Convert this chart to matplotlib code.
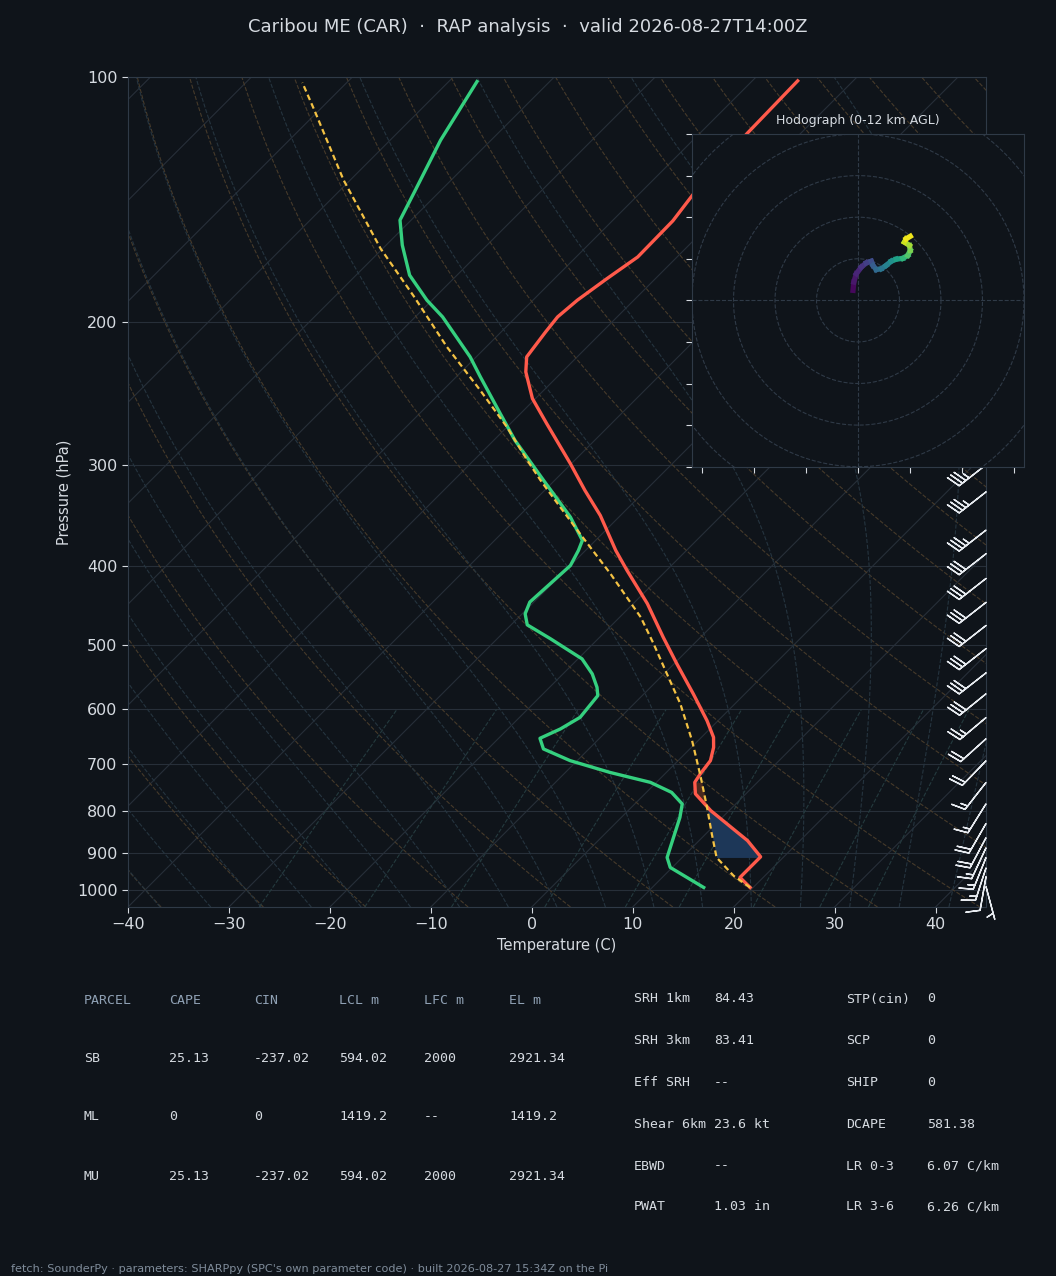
import numpy as np
import matplotlib
matplotlib.use('Agg')
import matplotlib.pyplot as plt
from matplotlib.collections import LineCollection
from matplotlib.colors import Normalize

# ---------------- data ----------------
temp_p = [993.5, 965.7, 910.8, 870.0, 799.3, 762.0, 737.6, 719.7, 693.6, 668.0, 649.3, 619.3,
          574.2, 527.4, 489.0, 444.6, 404.7, 382.4, 346.3, 322.6, 299.0, 267.0, 248.7, 230.6,
          221.0, 205.9, 197.3, 188.2, 177.0, 166.5, 150.3, 139.7, 117.3, 101.1]
temp_c = [19.7, 17.7, 17.7, 14.8, 8.2, 5.0, 3.8, 3.5, 3.2, 2.2, 1.2, -1.1,
          -5.1, -9.7, -13.7, -18.6, -23.9, -27.0, -32.0, -36.0, -40.1, -46.4, -50.3, -53.6,
          -55.0, -55.6, -55.9, -55.6, -54.8, -53.9, -54.0, -54.6, -55.3, -55.5]

dwpt_p = [993.5, 938.7, 912.5, 814.6, 784.2, 758.9, 737.6, 717.1, 693.6, 671.0, 651.1, 634.0,
          613.5, 576.9, 563.5, 542.5, 519.9, 491.2, 472.1, 457.6, 442.6, 420.1, 399.1, 382.4,
          371.7, 347.9, 313.5, 279.9, 259.5, 233.9, 221.0, 197.3, 188.2, 175.3, 161.0, 150.0,
          139.0, 119.6, 101.3]
dwpt_c = [15.1, 9.8, 8.5, 5.8, 4.7, 2.5, -0.6, -5.6, -10.7, -14.5, -15.9, -14.8,
          -14.0, -14.4, -15.3, -17.1, -19.6, -24.7, -28.4, -29.7, -30.4, -30.2, -30.0, -30.7,
          -31.3, -34.8, -41.1, -47.9, -52.0, -57.6, -60.6, -67.3, -70.5, -74.7, -78.4, -81.1,
          -82.4, -85.0, -87.2]

parcel_p = [993.5, 961.1, 912.5, 853.7, 791.9, 723.8, 655.4, 590.6, 542.5, 498.2, 462.1, 436.4,
            408.6, 364.7, 338.2, 313.5, 296.2, 269.6, 242.9, 214.8, 186.4, 162.6, 133.8, 109.8, 101.6]
parcel_c = [19.7, 16.9, 13.4, 10.6, 7.5, 3.7, -0.6, -5.4, -9.7, -14.0, -17.9, -21.3,
            -25.2, -32.2, -36.8, -41.4, -44.7, -50.0, -56.3, -63.9, -72.1, -80.2, -90.7, -100.5, -104.4]

lcl_p = 912.5
shade_top_p = 737.6

wind_p = [991, 964, 940, 913, 888, 863, 829, 784, 738, 694, 652, 614, 574, 541, 505, 473,
          443, 414, 386, 361, 324, 300, 276, 252, 230, 208, 188, 168, 150]
wind_spd = [5, 10, 15, 15, 15, 20, 20, 15, 15, 20, 20, 25, 30, 30, 30, 30,
            30, 30, 30, 35, 35, 35, 35, 35, 40, 40, 40, 40, 40]
wind_dir = [165, 190, 198, 202, 205, 208, 210, 212, 218, 224, 228, 230, 231, 232, 232, 232,
            232, 232, 232, 232, 232, 232, 232, 232, 232, 232, 232, 232, 232]

hodo_u = [-1.2, -1.0, -0.4, 0.8, 2.0, 3.2, 3.6, 4.4, 5.6, 6.8, 8.0, 9.2, 10.8, 12.0, 12.6, 12.4, 11.2, 11.6, 12.6]
hodo_v = [2.4, 4.4, 6.4, 8.0, 9.0, 9.4, 8.4, 7.4, 7.6, 8.4, 9.4, 9.9, 10.1, 10.8, 12.0, 13.2, 14.0, 14.8, 15.4]
hodo_h = [0.0, 0.5, 1.0, 1.5, 2.0, 2.5, 3.2, 3.8, 4.4, 5.0, 5.6, 6.4, 7.4, 8.4, 9.2, 10.0, 10.8, 11.4, 12.0]

xticks_t = [-40, -30, -20, -10, 0, 10, 20, 30, 40]
pticks = [100, 200, 300, 400, 500, 600, 700, 800, 900, 1000]

title = "Caribou ME (CAR)  \u00b7  RAP analysis  \u00b7  valid 2026-08-27T14:00Z"
footer = ("fetch: SounderPy \u00b7 parameters: SHARPpy (SPC's own parameter code) \u00b7 "
          "built 2026-08-27 15:34Z on the Pi")

parcel_header = ["PARCEL", "CAPE", "CIN", "LCL m", "LFC m", "EL m"]
parcel_rows = [["SB", "25.13", "-237.02", "594.02", "2000", "2921.34"],
               ["ML", "0", "0", "1419.2", "--", "1419.2"],
               ["MU", "25.13", "-237.02", "594.02", "2000", "2921.34"]]
params_left = [("SRH 1km", "84.43"), ("SRH 3km", "83.41"), ("Eff SRH", "--"),
               ("Shear 6km", "23.6 kt"), ("EBWD", "--"), ("PWAT", "1.03 in")]
params_right = [("STP(cin)", "0"), ("SCP", "0"), ("SHIP", "0"),
                ("DCAPE", "581.38"), ("LR 0-3", "6.07 C/km"), ("LR 3-6", "6.26 C/km")]

# ---------------- style ----------------
BG = '#0f141a'
GRID = '#272f39'
SPINE = '#2f3a47'
TXT = '#d6dbe1'
DIM = '#8fa1b4'
W, H = 1056, 1276

fig = plt.figure(figsize=(W / 100, H / 100), dpi=100, facecolor=BG)
AX_RECT = [128 / W, 1 - 907 / H, 858 / W, 830 / H]
ax = fig.add_axes(AX_RECT)
ax.set_facecolor(BG)
XMIN, XMAX = -40, 45
PBOT, PTOP = 1050, 100
ax.set_yscale('log')
ax.set_ylim(PBOT, PTOP)
ax.set_xlim(XMIN, XMAX)

px_per_dec = AX_RECT[3] * H / np.log10(PBOT / PTOP)
px_per_deg = AX_RECT[2] * W / (XMAX - XMIN)
K = px_per_dec / px_per_deg


def skew(p):
    return K * np.log10(PBOT / np.asarray(p, dtype=float))


# isobars
for p in pticks:
    ax.axhline(p, color=GRID, lw=0.8, zorder=1)
# isotherms
for t in range(-160, 50, 10):
    ax.plot([t, t + skew(PTOP)], [PBOT, PTOP], color=GRID, lw=0.8, zorder=1)

pg = np.logspace(np.log10(PBOT), np.log10(PTOP), 200)
# dry adiabats
for th in np.arange(-40, 210, 10):
    tt = (th + 273.15) * (pg / 1000.0) ** 0.2857 - 273.15
    ax.plot(tt + skew(pg), pg, color='#463a2a', lw=0.8, ls='--', zorder=1)

# moist adiabats
Rd, Cp, Lv, eps = 287.04, 1005.7, 2.501e6, 0.622


def dtdlnp(T, p):
    tc = T - 273.15
    es = 6.112 * np.exp(17.67 * tc / (tc + 243.5))
    rs = eps * es / (p - es)
    return (Rd * T + Lv * rs) / (Cp + (Lv * Lv * rs * eps) / (Rd * T * T))


def integrate(t0, p_path):
    T = np.array(t0, dtype=float)
    out = [T.copy()]
    for i in range(len(p_path) - 1):
        p0, p1 = p_path[i], p_path[i + 1]
        h = np.log(p1) - np.log(p0)
        pm = np.exp(np.log(p0) + h / 2)
        k1 = dtdlnp(T, p0)
        k2 = dtdlnp(T + h / 2 * k1, pm)
        k3 = dtdlnp(T + h / 2 * k2, pm)
        k4 = dtdlnp(T + h * k3, p1)
        T = T + h / 6 * (k1 + 2 * k2 + 2 * k3 + k4)
        out.append(T.copy())
    return np.array(out)


t0m = np.arange(-40, 41, 5) + 273.15
p_up = np.logspace(3, 2, 150)
p_dn = np.logspace(3, np.log10(PBOT), 10)
Tup = integrate(t0m, p_up)
Tdn = integrate(t0m, p_dn)
pm_all = np.concatenate([p_dn[::-1], p_up[1:]])
Tm_all = np.concatenate([Tdn[::-1], Tup[1:]]) - 273.15
for j in range(len(t0m)):
    ax.plot(Tm_all[:, j] + skew(pm_all), pm_all, color='#25343f', lw=0.8, ls='--', zorder=1)

# mixing ratio lines
pmx = np.logspace(np.log10(PBOT), np.log10(600), 50)
for w in [0.0004, 0.001, 0.002, 0.004, 0.007, 0.01, 0.016, 0.024, 0.032]:
    e = w * pmx / (eps + w)
    lg = np.log(e / 6.112)
    td = 243.5 * lg / (17.67 - lg)
    ax.plot(td + skew(pmx), pmx, color='#243a3e', lw=0.8, ls='--', zorder=1)

# shading (CIN / CAPE)
tp = np.array(temp_p); tc_ = np.array(temp_c)
pp = np.array(parcel_p); pc_ = np.array(parcel_c)
pf = np.logspace(np.log10(lcl_p), np.log10(shade_top_p), 300)
tf = np.interp(-np.log(pf), -np.log(tp), tc_)
parf = np.interp(-np.log(pf), -np.log(pp), pc_)
ax.fill_betweenx(pf, parf + skew(pf), tf + skew(pf), where=parf < tf, interpolate=True,
                 color='#1d3758', lw=0, zorder=2)
ax.fill_betweenx(pf, parf + skew(pf), tf + skew(pf), where=parf >= tf, interpolate=True,
                 color='#4a2a1f', lw=0, zorder=2)

# profiles
ax.plot(np.array(temp_c) + skew(temp_p), temp_p, color='#ff5a4b', lw=2.4, zorder=5,
        solid_joinstyle='round')
ax.plot(np.array(dwpt_c) + skew(dwpt_p), dwpt_p, color='#35d07f', lw=2.4, zorder=5,
        solid_joinstyle='round')
ax.plot(np.array(parcel_c) + skew(parcel_p), parcel_p, color='#f4c244', lw=1.6, zorder=6,
        dashes=(2.6, 1.6))

# wind barbs
wd = np.deg2rad(np.array(wind_dir, dtype=float))
ws = np.array(wind_spd, dtype=float)
uu = -ws * np.sin(wd)
vv = -ws * np.cos(wd)
ax.barbs(np.ones(len(wind_p)), wind_p, uu, vv, transform=ax.get_yaxis_transform(),
         length=7, color='#e6eaef', lw=1.0, clip_on=False, zorder=7)

# axes styling
ax.set_xticks(xticks_t)
ax.set_yticks(pticks)
ax.set_yticklabels([str(p) for p in pticks])
ax.yaxis.set_minor_locator(matplotlib.ticker.NullLocator())
ax.tick_params(colors=TXT, labelcolor=TXT, labelsize=11.5, length=4, width=0.8)
for s in ax.spines.values():
    s.set_color(SPINE)
    s.set_linewidth(0.8)
ax.set_xlabel('Temperature (C)', color=TXT, fontsize=10.5, labelpad=4)
ax.set_ylabel('Pressure (hPa)', color=TXT, fontsize=10.5, labelpad=4)

# hodograph inset
hax = fig.add_axes([692 / W, 1 - 466.7 / H, 332 / W, 332.7 / H])
hax.set_facecolor(BG)
hax.set_xlim(-40, 40)
hax.set_ylim(-40, 40)
th_ = np.linspace(0, 2 * np.pi, 300)
for r in range(10, 70, 10):
    hax.plot(r * np.cos(th_), r * np.sin(th_), color='#2f3a47', lw=0.8, ls='--', zorder=1)
hax.axhline(0, color='#2f3a47', lw=0.8, ls='--', zorder=1)
hax.axvline(0, color='#2f3a47', lw=0.8, ls='--', zorder=1)
pts = np.column_stack([hodo_u, hodo_v])
segs = np.stack([pts[:-1], pts[1:]], axis=1)
hh = np.array(hodo_h)
lc = LineCollection(segs, cmap='viridis', norm=Normalize(0, 12), linewidths=3.8, zorder=3,
                    capstyle='projecting')
lc.set_array(0.5 * (hh[:-1] + hh[1:]))
hax.add_collection(lc)
hax.set_xticks([-37.5, -25, -12.5, 0, 12.5, 25, 37.5])
hax.set_yticks(range(-40, 41, 10))
hax.tick_params(labelbottom=False, labelleft=False, colors=TXT, length=4, width=0.8)
for s in hax.spines.values():
    s.set_color(SPINE)
    s.set_linewidth(0.8)
hax.set_title('Hodograph (0-12 km AGL)', fontsize=9, color=TXT, pad=7)

# title and texts
fig.text(0.5, 1 - 27 / H, title, ha='center', va='center', color=TXT, fontsize=13)

MONO = 'DejaVu Sans Mono'
col_x = [84, 169, 254, 339, 424, 509]
row_y = [1000, 1058, 1117, 1176]
for x, s in zip(col_x, parcel_header):
    fig.text(x / W, 1 - row_y[0] / H, s, family=MONO, fontsize=9.5, color=DIM, va='center')
for r, row in enumerate(parcel_rows):
    for x, s in zip(col_x, row):
        fig.text(x / W, 1 - row_y[r + 1] / H, s, family=MONO, fontsize=9.5, color=TXT, va='center')

ry = [999, 1041, 1083, 1124, 1166, 1207]
for y, (a, b), (c, d) in zip(ry, params_left, params_right):
    fig.text(634 / W, 1 - y / H, a, family=MONO, fontsize=9.5, color=TXT, va='center')
    fig.text(714 / W, 1 - y / H, b, family=MONO, fontsize=9.5, color=TXT, va='center')
    fig.text(846 / W, 1 - y / H, c, family=MONO, fontsize=9.5, color=TXT, va='center')
    fig.text(927 / W, 1 - y / H, d, family=MONO, fontsize=9.5, color=TXT, va='center')

fig.text(11 / W, 1 - 1269 / H, footer, fontsize=8.1, color='#7f8c9a', va='center')

fig.savefig('out.png', dpi=100, facecolor=BG)
